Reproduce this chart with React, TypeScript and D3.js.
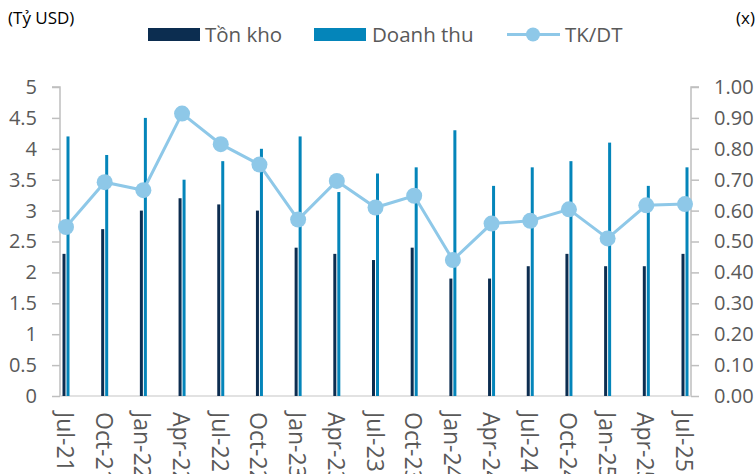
import { useEffect, useRef } from 'react'
import * as d3 from 'd3'

const quarters = [
  'Jul-21', 'Oct-21', 'Jan-22', 'Apr-22', 'Jul-22', 'Oct-22', 'Jan-23', 'Apr-23', 'Jul-23',
  'Oct-23', 'Jan-24', 'Apr-24', 'Jul-24', 'Oct-24', 'Jan-25', 'Apr-25', 'Jul-25',
]
const tonKho = [2.3, 2.7, 3.0, 3.2, 3.1, 3.0, 2.4, 2.3, 2.2, 2.4, 1.9, 1.9, 2.1, 2.3, 2.1, 2.1, 2.3]
const doanhThu = [4.2, 3.9, 4.5, 3.5, 3.8, 4.0, 4.2, 3.3, 3.6, 3.7, 4.3, 3.4, 3.7, 3.8, 4.1, 3.4, 3.7]
const tkdt = [0.547, 0.692, 0.666, 0.914, 0.815, 0.749, 0.571, 0.696, 0.61, 0.648, 0.44, 0.558, 0.567, 0.604, 0.51, 0.617, 0.621]
const leftTicks = [0, 0.5, 1, 1.5, 2, 2.5, 3, 3.5, 4, 4.5, 5]
const rightTicks = [0, 0.1, 0.2, 0.3, 0.4, 0.5, 0.6, 0.7, 0.8, 0.9, 1.0]

const DARK = '#0c2d50'
const BLUE = '#0485ba'
const LIGHT = '#8ec8e8'
const TEXT = '#595959'
const FONT = '"Open Sans", sans-serif'

function App() {
  const ref = useRef(null)

  useEffect(() => {
    const svg = d3.select(ref.current)
    svg.selectAll('*').remove()

    const left = 60,
      right = 691,
      top = 87,
      bottom = 396

    const x = d3.scalePoint().domain(quarters).range([66, 685])
    const y = d3.scaleLinear().domain([0, 5]).range([bottom, top])
    const y2 = d3.scaleLinear().domain([0, 1]).range([bottom, top])

    // left axis
    const yAxis = d3.axisLeft(y).tickValues(leftTicks).tickSize(8).tickFormat((d) => String(d))
    const gl = svg.append('g').attr('transform', 'translate(' + left + ',0)').call(yAxis)
    gl.select('.domain').attr('stroke', '#bfbfbf').attr('stroke-width', 1.5).attr('d', 'M-8,' + top + 'H0V' + bottom)
    gl.selectAll('.tick line').attr('stroke', '#bfbfbf').attr('stroke-width', 1.5)
    gl.selectAll('.tick text')
      .attr('x', -23)
      .attr('fill', TEXT)
      .style('font-family', FONT)
      .style('font-size', '20px')

    // right axis
    const yAxis2 = d3.axisRight(y2).tickValues(rightTicks).tickSize(8).tickFormat(d3.format('.2f'))
    const gr = svg.append('g').attr('transform', 'translate(' + right + ',0)').call(yAxis2)
    gr.select('.domain').attr('stroke', '#bfbfbf').attr('stroke-width', 1.5).attr('d', 'M8,' + top + 'H0V' + bottom)
    gr.selectAll('.tick line').attr('stroke', '#bfbfbf').attr('stroke-width', 1.5)
    gr.selectAll('.tick text')
      .attr('x', 23)
      .attr('fill', TEXT)
      .style('font-family', FONT)
      .style('font-size', '20px')

    // x axis line
    svg.append('line')
      .attr('x1', left).attr('x2', right)
      .attr('y1', bottom).attr('y2', bottom)
      .attr('stroke', '#d9d9d9').attr('stroke-width', 1.5)

    // bars
    svg.append('g').selectAll('rect')
      .data(tonKho)
      .join('rect')
      .attr('x', (d, i) => x(quarters[i]) - 3.5)
      .attr('width', 3)
      .attr('y', (d) => y(d))
      .attr('height', (d) => bottom - y(d))
      .attr('fill', DARK)

    svg.append('g').selectAll('rect')
      .data(doanhThu)
      .join('rect')
      .attr('x', (d, i) => x(quarters[i]) + 0.5)
      .attr('width', 3)
      .attr('y', (d) => y(d))
      .attr('height', (d) => bottom - y(d))
      .attr('fill', BLUE)

    // line
    const line = d3.line().x((d, i) => x(quarters[i])).y((d) => y2(d))
    svg.append('path')
      .attr('d', line(tkdt))
      .attr('fill', 'none')
      .attr('stroke', LIGHT)
      .attr('stroke-width', 3)

    svg.append('g').selectAll('circle')
      .data(tkdt)
      .join('circle')
      .attr('cx', (d, i) => x(quarters[i]))
      .attr('cy', (d) => y2(d))
      .attr('r', 8)
      .attr('fill', LIGHT)

    // x labels
    svg.append('g').selectAll('text')
      .data(quarters)
      .join('text')
      .attr('transform', (d) => 'translate(' + (x(d) - 9) + ',412) rotate(90)')
      .attr('text-anchor', 'start')
      .attr('fill', TEXT)
      .style('font-family', FONT)
      .style('font-size', '23px')
      .text((d) => d)

    // unit labels
    svg.append('text').attr('x', 8).attr('y', 24)
      .attr('fill', '#000').style('font-family', FONT).style('font-size', '17px').text('(Tỷ USD)')
    svg.append('text').attr('x', 755).attr('y', 24).attr('text-anchor', 'end')
      .attr('fill', '#000').style('font-family', FONT).style('font-size', '17px').text('(x)')

    // legend
    const lg = svg.append('g').style('font-family', FONT).style('font-size', '20.5px')
    lg.append('rect').attr('x', 148).attr('y', 28).attr('width', 52).attr('height', 13).attr('fill', DARK)
    lg.append('text').attr('x', 205).attr('y', 42).attr('fill', TEXT).text('Tồn kho')
    lg.append('rect').attr('x', 314).attr('y', 28).attr('width', 52).attr('height', 13).attr('fill', BLUE)
    lg.append('text').attr('x', 372).attr('y', 42).attr('fill', TEXT).text('Doanh thu')
    lg.append('line').attr('x1', 507).attr('x2', 560).attr('y1', 34.5).attr('y2', 34.5)
      .attr('stroke', LIGHT).attr('stroke-width', 3)
    lg.append('circle').attr('cx', 533).attr('cy', 34.5).attr('r', 7).attr('fill', LIGHT)
    lg.append('text').attr('x', 565).attr('y', 42).attr('fill', TEXT).text('TK/DT')
  }, [])

  return <svg ref={ref} width={756} height={474} style={{ position: 'absolute', left: 0, top: 0 }} />
}

export default App
